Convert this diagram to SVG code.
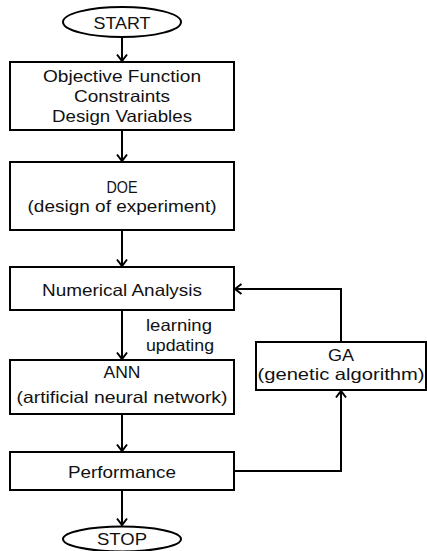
<svg xmlns="http://www.w3.org/2000/svg" width="427" height="551" viewBox="0 0 427 551">
<style>
  .box { fill: #fff; stroke: #000; stroke-width: 2; }
  .t { font-family: "Liberation Sans", Arial, sans-serif; font-size: 16.5px; fill: #111; text-anchor: middle; }
  .ts { font-family: "Liberation Sans", Arial, sans-serif; font-size: 16.5px; fill: #111; text-anchor: start; }
  .c { fill: none; stroke: #000; stroke-width: 2; marker-end: url(#ah); }
</style>
<defs>
  <marker id="ah" markerUnits="userSpaceOnUse" markerWidth="14" markerHeight="14" viewBox="-8 -7 10 14" refX="0" refY="0" orient="auto">
    <path d="M-6.5,-5 L0,0 L-6.5,5" fill="none" stroke="#000" stroke-width="2"/>
  </marker>
</defs>
<rect width="427" height="551" fill="#fff"/>
<g id="connectors">
  <path class="c" d="M122,37 V61"/>
  <path class="c" d="M122,130 V161"/>
  <path class="c" d="M122,230 V266"/>
  <path class="c" d="M122,310 V359"/>
  <path class="c" d="M122,414 V451"/>
  <path class="c" d="M122,490 V525"/>
  <path class="c" d="M234,471 H341 V391"/>
  <path class="c" d="M341,342 V289 H235"/>
</g>
<g id="start">
  <ellipse class="box" cx="122" cy="22" rx="59" ry="15"/>
  <text class="t" x="122" y="29" textLength="57" lengthAdjust="spacingAndGlyphs">START</text>
</g>
<g id="objective">
  <rect class="box" x="10" y="62" width="224" height="68"/>
  <text class="t" x="122" y="82" textLength="158" lengthAdjust="spacingAndGlyphs">Objective Function</text>
  <text class="t" x="122" y="102" textLength="96" lengthAdjust="spacingAndGlyphs">Constraints</text>
  <text class="t" x="122" y="122" textLength="140" lengthAdjust="spacingAndGlyphs">Design Variables</text>
</g>
<g id="doe">
  <rect class="box" x="10" y="162" width="224" height="68"/>
  <text class="t" x="122" y="193" textLength="31" lengthAdjust="spacingAndGlyphs">DOE</text>
  <text class="t" x="122" y="212" textLength="189" lengthAdjust="spacingAndGlyphs">(design of experiment)</text>
</g>
<g id="numerical">
  <rect class="box" x="10" y="267" width="224" height="43"/>
  <text class="t" x="122" y="296" textLength="160" lengthAdjust="spacingAndGlyphs">Numerical Analysis</text>
</g>
<g id="label-learning">
  <text class="ts" x="146" y="331" textLength="66" lengthAdjust="spacingAndGlyphs">learning</text>
  <text class="ts" x="146" y="351" textLength="68" lengthAdjust="spacingAndGlyphs">updating</text>
</g>
<g id="ga">
  <rect class="box" x="256" y="342" width="170" height="48"/>
  <text class="t" x="341" y="361" textLength="26" lengthAdjust="spacingAndGlyphs">GA</text>
  <text class="t" x="341" y="380" textLength="167" lengthAdjust="spacingAndGlyphs">(genetic algorithm)</text>
</g>
<g id="ann">
  <rect class="box" x="10" y="360" width="224" height="54"/>
  <text class="t" x="122" y="378" textLength="37" lengthAdjust="spacingAndGlyphs">ANN</text>
  <text class="t" x="122" y="403" textLength="211" lengthAdjust="spacingAndGlyphs">(artificial neural network)</text>
</g>
<g id="performance">
  <rect class="box" x="10" y="452" width="224" height="38"/>
  <text class="t" x="122" y="478" textLength="108" lengthAdjust="spacingAndGlyphs">Performance</text>
</g>
<g id="stop">
  <ellipse class="box" cx="122" cy="539" rx="59" ry="12.5"/>
  <text class="t" x="122" y="545" textLength="50" lengthAdjust="spacingAndGlyphs">STOP</text>
</g>
</svg>
